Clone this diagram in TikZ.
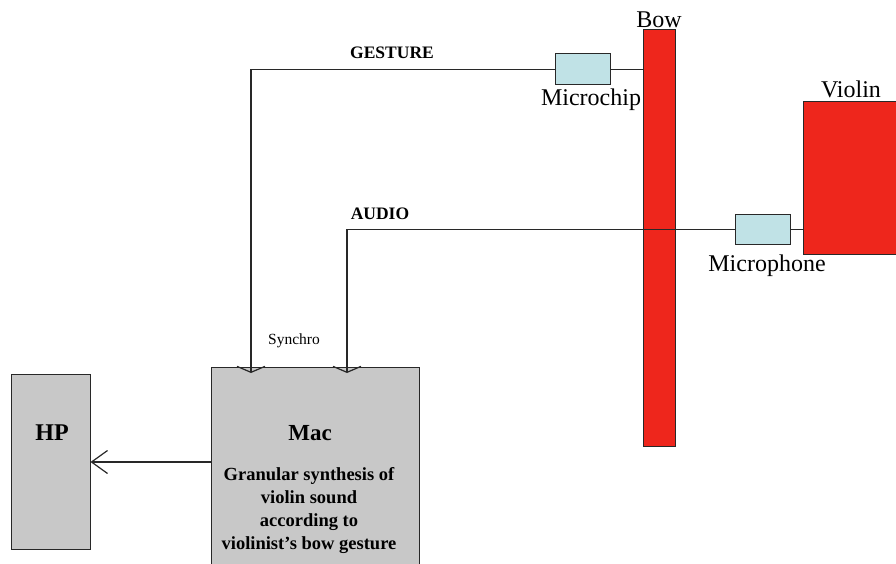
\documentclass[tikz,border=0pt]{standalone}
\usepackage{fontspec}
\setmainfont{Liberation Serif}
\usepackage{xcolor}
\usetikzlibrary{arrows.meta}
\usetikzlibrary{positioning}
\definecolor{bowred}{RGB}{238,38,28}
\definecolor{chipcyan}{RGB}{192,226,230}
\definecolor{boxgray}{RGB}{200,200,200}
\definecolor{wire}{RGB}{40,40,40}
\tikzstyle{redbox} = [rectangle, draw=wire, fill=bowred, line width=1pt, inner sep=0pt]
\tikzstyle{sensor} = [rectangle, draw=wire, fill=chipcyan, line width=1pt, inner sep=0pt, minimum width=55pt]
\tikzstyle{unit} = [rectangle, draw=wire, fill=boxgray, line width=1pt, inner sep=0pt]
\tikzstyle{tag} = [font=\fontsize{24}{28}\selectfont, inner sep=0pt]
\tikzstyle{signal} = [font=\bfseries\fontsize{17.5}{20}\selectfont, inner sep=0pt]

\begin{document}
\begin{tikzpicture}[x=1pt, y=-1pt, line width=1.2pt, draw=wire]
  \useasboundingbox (0,0) rectangle (896,564);
  \node[redbox, minimum width=32pt, minimum height=416pt] (bow) at (659.5,238) {};
  \node[redbox, minimum width=110pt, minimum height=152pt] (violin) at (858,178) {};
  \node[unit, minimum width=208pt, minimum height=220pt] (mac) at (315,477) {};
  \node[unit, minimum width=79pt, minimum height=175pt] (hp) at (50.5,461.5) {};
  \node[sensor, minimum height=31pt] (chip) at (582.5,69.5) {};
  \node[sensor, minimum height=30pt] (mic) at (762.5,229.5) {};

  \node[tag] (bowlabel) at (659,20) {Bow};
  \node[tag] (violinlabel) at (851,89) {Violin};
  \node[tag] (chiplabel) at (591,100) {Microchip};
  \node[tag] (miclabel) at (767,266) {Microphone};
  \node[signal] (gesture) at (392,53) {GESTURE};
  \node[signal] (audio) at (380,214) {AUDIO};
  \node[font=\fontsize{15.5}{18}\selectfont, inner sep=0pt] (synchro) at (294,341) {Synchro};
  \node[font=\bfseries\fontsize{23}{26}\selectfont, inner sep=0pt] (maclabel) at (310,433) {Mac};
  \node[font=\bfseries\fontsize{18.5}{23}\selectfont, align=center, inner sep=0pt] (macnote) at (309,511)
    {Granular synthesis of\\violin sound\\according to\\violinist’s bow gesture};
  \node[font=\bfseries\fontsize{24}{28}\selectfont, inner sep=0pt] (hplabel) at (52,433) {HP};

  \coordinate (gin) at (251,373);
  \coordinate (ain) at (347,373);
  \coordinate (macout) at (211,462);

  \draw[-{Straight Barb[length=6pt, width=28pt]}] (chip.west) -| (gin);
  \draw (chip.east) -- (chip.east -| bow.west);
  \draw[-{Straight Barb[length=6pt, width=28pt]}] (mic.west) -| (ain);
  \draw (mic.east) -- (mic.east -| violin.west);
  \draw[-{Straight Barb[length=16pt, width=23pt]}] (macout) -- (macout -| hp.east);
\end{tikzpicture}
\end{document}
